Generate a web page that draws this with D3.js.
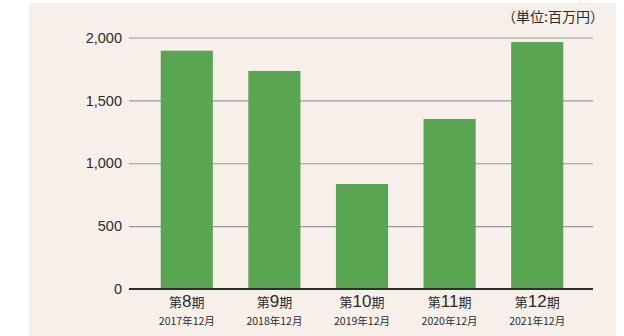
<!DOCTYPE html>
<html>
<head>
<meta charset="utf-8">
<script src="https://cdn.jsdelivr.net/npm/d3@7"></script>
<style>
  html, body { margin: 0; padding: 0; background: #ffffff; }
  svg { display: block; }
</style>
</head>
<body>
<svg id="chart" width="624" height="336"></svg>
<script>
// Fiscal periods, their closing month and the amount (millions of yen)
const periods = ["8", "9", "10", "11", "12"];
const closings = ["2017年12月", "2018年12月", "2019年12月", "2020年12月", "2021年12月"];
const values = [1895, 1734, 835, 1352, 1964];
const yTicks = [0, 500, 1000, 1500, 2000];
const unitLabel = "（単位:百万円）";

const svg = d3.select("#chart");
const W = 624, H = 336;

// panel background
svg.append("rect")
  .attr("x", 29).attr("y", 3)
  .attr("width", 587).attr("height", H - 3)
  .attr("fill", "#f7f0ea");

const plotLeft = 129, plotRight = 593;
const y = d3.scaleLinear().domain([0, 2000]).range([289, 37.5]);
const x = d3.scaleBand().domain(periods).range([143, 581]).paddingInner(0.405).paddingOuter(0.2025);

// horizontal grid lines with labels
const yAxis = d3.axisLeft(y)
  .tickValues(yTicks)
  .tickSize(-(plotRight - plotLeft))
  .tickPadding(8)
  .tickFormat(d3.format(","));

const gy = svg.append("g")
  .attr("transform", `translate(${plotLeft},0)`)
  .call(yAxis);
gy.select(".domain").remove();
gy.selectAll(".tick line")
  .attr("stroke", "#9a9896")
  .attr("stroke-width", 1.2);
gy.selectAll(".tick text")
  .attr("fill", "#2b2b2b")
  .attr("font-family", "'Liberation Sans', Arial, sans-serif")
  .attr("font-size", 14.5)
  .attr("x", -7);

// bars
svg.append("g").selectAll("rect")
  .data(values)
  .join("rect")
  .attr("x", (d, i) => x(periods[i]))
  .attr("y", d => y(d))
  .attr("width", x.bandwidth())
  .attr("height", d => y(0) - y(d))
  .attr("fill", "#5aa552");

// baseline
svg.append("line")
  .attr("x1", plotLeft).attr("x2", plotRight)
  .attr("y1", y(0)).attr("y2", y(0))
  .attr("stroke", "#2e2e2e")
  .attr("stroke-width", 2);

// category labels: period number and closing month
const jp = "'Noto Sans CJK JP', 'Noto Sans', sans-serif";
const cats = svg.append("g").selectAll("g")
  .data(periods)
  .join("g")
  .attr("transform", d => `translate(${x(d) + x.bandwidth() / 2},0)`);

const t1 = cats.append("text")
  .attr("y", 307)
  .attr("text-anchor", "middle")
  .attr("fill", "#2b2b2b")
  .attr("font-family", jp);
t1.append("tspan").attr("font-size", 13).text("第");
t1.append("tspan")
  .attr("font-size", 17)
  .attr("font-family", "'Liberation Sans', Arial, sans-serif")
  .text(d => d);
t1.append("tspan").attr("font-size", 13).text("期");

cats.append("text")
  .attr("y", 325)
  .attr("text-anchor", "middle")
  .attr("fill", "#2b2b2b")
  .attr("font-family", jp)
  .attr("font-size", 10.5)
  .text((d, i) => closings[i]);

// unit note
svg.append("text")
  .attr("x", 604).attr("y", 22)
  .attr("text-anchor", "end")
  .attr("fill", "#2b2b2b")
  .attr("font-family", jp)
  .attr("font-size", 14)
  .text(unitLabel);
</script>
</body>
</html>
